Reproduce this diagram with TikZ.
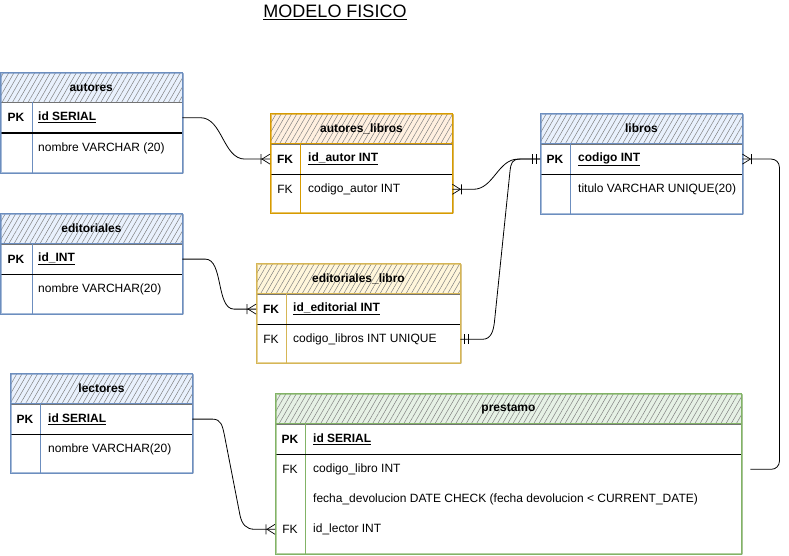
\documentclass[tikz,border=0pt]{standalone}
\usepackage{fontspec}
\setmainfont{Liberation Sans}
\usetikzlibrary{calc,patterns.meta}
\definecolor{erblue}{HTML}{6C8EBF}
\definecolor{erbluet}{HTML}{DAE8FC}
\definecolor{erorange}{HTML}{D79B00}
\definecolor{erorranget}{HTML}{FFE6CC}
\definecolor{eryellow}{HTML}{D6B656}
\definecolor{eryellowt}{HTML}{FFF2CC}
\definecolor{ergreen}{HTML}{82B366}
\definecolor{ergreent}{HTML}{D5E8D4}
\tikzset{
  hdrbox/.style={anchor=north west, minimum height=30pt, inner sep=0pt, line width=0.9pt,
    pattern={Lines[angle=60,distance=4.5pt,line width=0.5pt]}, pattern color=black!50,
    font=\fontsize{12}{14}\selectfont\bfseries},
  rowbox/.style={anchor=north west, inner sep=0pt, draw=black!55, line width=0.4pt, fill=white},
  keyb/.style={inner sep=0pt, font=\fontsize{12}{14}\selectfont\bfseries},
  keyr/.style={inner sep=0pt, font=\fontsize{12}{14}\selectfont},
  fldb/.style={anchor=west, inner sep=0pt, font=\fontsize{12}{14}\selectfont\bfseries},
  fld/.style={anchor=west, inner sep=0pt, font=\fontsize{12}{14}\selectfont},
  conn/.style={draw=black, line width=0.8pt},
  crowR/.pic={\draw[line width=0.7pt] (-8,0) -- (0,-5) (-8,0) -- (0,5) (-9,-5) -- (-9,5);},
  oneR/.pic={\draw[line width=0.7pt] (-3.5,-5) -- (-3.5,5) (-7.5,-5) -- (-7.5,5);}
}
\newcommand{\ertable}[9]{%
  \fill[black!12] (#2+2,#3+2) rectangle (#2+#4+2,#3+62+#5);
  \node[hdrbox, draw=#7, preaction={fill=#8}, minimum width=#4pt] (#1) at (#2,#3) {#9};
  \node[rowbox, minimum width=#4pt, minimum height=30pt] (#1-pk) at (#1.south west) {};
  \node[rowbox, minimum width=#4pt, minimum height=#5pt] (#1-body) at (#1-pk.south west) {};
  \draw[#7, line width=0.9pt] ($(#1-pk.north west)+(#6,0)$) -- ($(#1-body.south west)+(#6,0)$);
  \draw[line width=1.5pt] (#1-pk.south west) -- (#1-pk.south east);
  \draw[#7, line width=0.9pt] (#1.north west) rectangle (#1-body.south east);
  \draw[#7, line width=0.5pt, opacity=0.6] ($(#1.north west)+(1.5,1)$) rectangle ($(#1-body.south east)+(1,-1.5)$);
}
\begin{document}
\begin{tikzpicture}[x=1pt,y=-1pt]
\useasboundingbox (0,0) rectangle (789,556);

\node[font=\fontsize{18}{20}\selectfont, inner sep=0pt] (title) at (335,12) {\underline{MODELO FISICO}};

% tables
\ertable{autores}{0}{72}{182}{40}{32}{erblue}{erbluet!60}{autores}
\ertable{autoreslibros}{270}{113}{182}{39}{30}{erorange}{erorranget!60}{autores\_libros}
\ertable{libros}{540}{113}{202}{40}{30}{erblue}{erbluet!60}{libros}
\ertable{editoriales}{0}{213}{182}{40}{32}{erblue}{erbluet!60}{editoriales}
\ertable{editlibro}{256}{263}{204}{39}{30}{eryellow}{eryellowt!70}{editoriales\_libro}
\ertable{lectores}{10}{373}{182}{39}{30}{erblue}{erbluet!60}{lectores}
\ertable{prestamo}{275}{393}{466}{100}{30}{ergreen}{ergreent!60}{prestamo}

% autores
\node[keyb] (autores-k1) at ($(autores-pk.west)+(16,0)$) {PK};
\node[fldb] (autores-f1) at ($(autores-pk.west)+(38,0)$) {\underline{id SERIAL}};
\node[fld] (autores-f2) at ($(autores-body.north west)+(38,15)$) {nombre VARCHAR (20)};

% autores_libros
\node[keyb] (autoreslibros-k1) at ($(autoreslibros-pk.west)+(15,0)$) {FK};
\node[fldb] (autoreslibros-f1) at ($(autoreslibros-pk.west)+(38,0)$) {\underline{id\_autor INT}};
\node[keyr] (autoreslibros-k2) at ($(autoreslibros-body.north west)+(15,15)$) {FK};
\node[fld] (autoreslibros-f2) at ($(autoreslibros-body.north west)+(38,15)$) {codigo\_autor INT};

% libros
\node[keyb] (libros-k1) at ($(libros-pk.west)+(15,0)$) {PK};
\node[fldb] (libros-f1) at ($(libros-pk.west)+(38,0)$) {\underline{codigo INT}};
\node[fld] (libros-f2) at ($(libros-body.north west)+(38,15)$) {titulo VARCHAR UNIQUE(20)};

% editoriales
\node[keyb] (editoriales-k1) at ($(editoriales-pk.west)+(16,0)$) {PK};
\node[fldb] (editoriales-f1) at ($(editoriales-pk.west)+(38,0)$) {\underline{id\_INT}};
\node[fld] (editoriales-f2) at ($(editoriales-body.north west)+(38,15)$) {nombre VARCHAR(20)};

% editoriales_libro
\node[keyb] (editlibro-k1) at ($(editlibro-pk.west)+(15,0)$) {FK};
\node[fldb] (editlibro-f1) at ($(editlibro-pk.west)+(37,0)$) {\underline{id\_editorial INT}};
\node[keyr] (editlibro-k2) at ($(editlibro-body.north west)+(15,15)$) {FK};
\node[fld] (editlibro-f2) at ($(editlibro-body.north west)+(37,15)$) {codigo\_libros INT UNIQUE};

% lectores
\node[keyb] (lectores-k1) at ($(lectores-pk.west)+(15,0)$) {PK};
\node[fldb] (lectores-f1) at ($(lectores-pk.west)+(38,0)$) {\underline{id SERIAL}};
\node[fld] (lectores-f2) at ($(lectores-body.north west)+(38,15)$) {nombre VARCHAR(20)};

% prestamo
\node[keyb] (prestamo-k1) at ($(prestamo-pk.west)+(15,0)$) {PK};
\node[fldb] (prestamo-f1) at ($(prestamo-pk.west)+(38,0)$) {\underline{id SERIAL}};
\node[keyr] (prestamo-k2) at ($(prestamo-body.north west)+(15,15)$) {FK};
\node[fld] (prestamo-f2) at ($(prestamo-body.north west)+(38,15)$) {codigo\_libro INT};
\node[fld] (prestamo-f3) at ($(prestamo-body.north west)+(38,45)$) {fecha\_devolucion DATE CHECK (fecha devolucion < CURRENT\_DATE)};
\node[keyr] (prestamo-k4) at ($(prestamo-body.north west)+(15,75)$) {FK};
\node[fld] (prestamo-f4) at ($(prestamo-body.north west)+(38,75)$) {id\_lector INT};

% connectors
\coordinate (al-ca) at ($(autoreslibros-body.north east)+(0,15)$);
\coordinate (el-cl) at ($(editlibro-body.north east)+(0,15)$);
\coordinate (pr-cl) at ($(prestamo-body.north east)+(9,15)$);
\coordinate (pr-il) at ($(prestamo-body.north west)+(0,75)$);

\draw[conn] (autores-pk.east) -- ++(18,0) .. controls +(22,0) and +(-22,0) .. ($(autoreslibros-pk.west)+(-25,0)$) -- (autoreslibros-pk.west);
\pic at (autoreslibros-pk.west) {crowR};

\draw[conn] (al-ca) -- ++(21,0) .. controls +(20,0) and +(-20,0) .. ($(libros-pk.west)+(-22,0)$) -- (libros-pk.west);
\pic[xscale=-1] at (al-ca) {crowR};
\pic at (libros-pk.west) {oneR};

\draw[conn] (editoriales-pk.east) -- ++(23,0) .. controls +(18,0) and +(-18,0) .. ($(editlibro-pk.west)+(-22,0)$) -- (editlibro-pk.west);
\pic at (editlibro-pk.west) {crowR};

\draw[conn] (el-cl) -- ++(22,0) .. controls +(9,0) and +(-1,8) .. ($(el-cl)+(34,-17)$) -- ($(libros-pk.west)+(-30,12)$) .. controls +(1,-8) and +(-8,0) .. ($(libros-pk.west)+(-20,0)$) -- (libros-pk.west);
\pic[xscale=-1] at (el-cl) {oneR};

\draw[conn, rounded corners=8pt] (libros-pk.east) -- ++(37,0) |- (pr-cl);
\pic[xscale=-1] at (libros-pk.east) {crowR};

\draw[conn] (lectores-pk.east) -- ++(20,0) .. controls +(9,0) and +(-2,-9) .. ($(lectores-pk.east)+(32,16)$) -- ($(pr-il)+(-35,-14)$) .. controls +(2,9) and +(-9,0) .. ($(pr-il)+(-20,0)$) -- (pr-il);
\pic at (pr-il) {crowR};
\end{tikzpicture}
\end{document}
